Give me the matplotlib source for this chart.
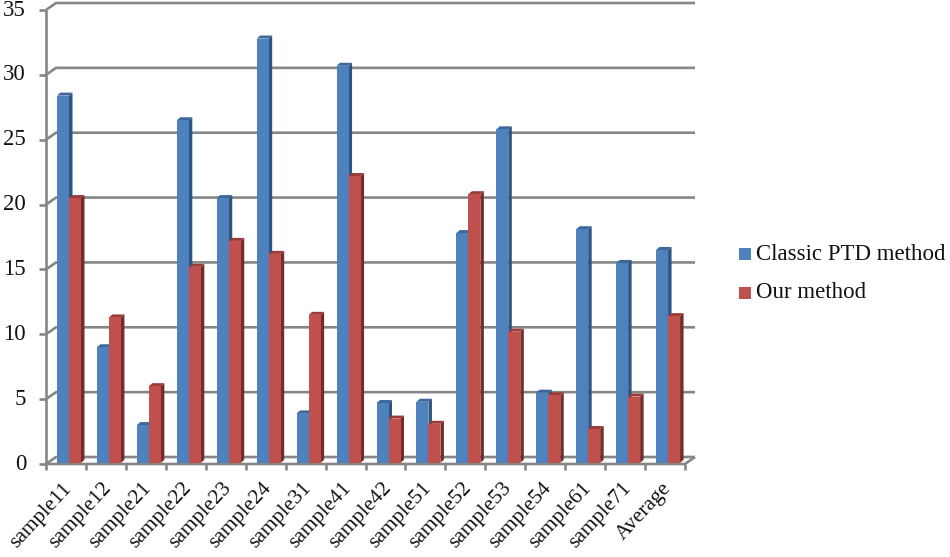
import matplotlib
matplotlib.use('Agg')
import numpy as np
import matplotlib.pyplot as plt
from matplotlib.patches import Polygon, Rectangle

categories = ['sample11', 'sample12', 'sample21', 'sample22', 'sample23', 'sample24',
              'sample31', 'sample41', 'sample42', 'sample51', 'sample52', 'sample53',
              'sample54', 'sample61', 'sample71', 'Average']
classic_ptd = [28.4, 9.0, 3.0, 26.5, 20.5, 32.8, 3.9, 30.7, 4.7, 4.8, 17.8, 25.8, 5.5, 18.1, 15.5, 16.5]
our_method = [20.5, 11.3, 6.0, 15.2, 17.2, 16.2, 11.5, 22.2, 3.5, 3.1, 20.8, 10.2, 5.3, 2.7, 5.2, 11.4]
y_ticks = [0, 5, 10, 15, 20, 25, 30, 35]

W, H = 950, 557
# front plane of the fake 3d box, in pixels
LEFT, RIGHT, BOTTOM, TOP = 46, 685, 464, 10
AXIS_COLOR = '#868686'

plt.rcParams['font.family'] = ['Liberation Serif', 'DejaVu Serif']

fig = plt.figure(figsize=(W / 100, H / 100), dpi=100)
ax = fig.add_axes([LEFT / W, 1 - BOTTOM / H, (RIGHT - LEFT) / W, (BOTTOM - TOP) / H])
ax.set_xlim(0, len(categories))
ax.set_ylim(0, 35)
ax.axis('off')

# pixel sizes to data units
px_x = len(categories) / (RIGHT - LEFT)
px_y = 35 / (BOTTOM - TOP)
wall_dx, wall_dy = 10 * px_x, 7 * px_y
side_dx, side_dy = 3.5 * px_x, 3 * px_y
bar_w = 12 * px_x
base = 1.2 * px_y


def axis_line(xs, ys, zorder=1):
    ax.plot(xs, ys, color=AXIS_COLOR, lw=1.9, clip_on=False, zorder=zorder, solid_capstyle='butt')


# walls and gridlines
n = len(categories)
for v in y_ticks:
    axis_line([0, wall_dx, n + wall_dx], [v, v + wall_dy, v + wall_dy])
    axis_line([-7 * px_x, 0], [v, v])
axis_line([0, 0], [0, 35])
axis_line([0, n, n + wall_dx], [0, 0, wall_dy])
for i in range(n + 1):
    axis_line([i, i], [0, -6 * px_y])


def draw_bar(x, value, face, side, top, zorder):
    ax.add_patch(Polygon([(x + bar_w, base), (x + bar_w + side_dx, base + side_dy),
                          (x + bar_w + side_dx, value + side_dy), (x + bar_w, value)],
                         closed=True, fc=side, ec='none', zorder=zorder, clip_on=False))
    ax.add_patch(Polygon([(x, value), (x + side_dx, value + side_dy),
                          (x + bar_w + side_dx, value + side_dy), (x + bar_w, value)],
                         closed=True, fc=top, ec='none', zorder=zorder, clip_on=False))
    ax.add_patch(Rectangle((x, base), bar_w, value - base, fc=face, ec='none',
                           zorder=zorder, clip_on=False))


for i in range(n):
    x0 = i + 11 * px_x
    draw_bar(x0, classic_ptd[i], '#4f81bd', '#2f5582', '#3a679c', 3 + i * 0.01)
    draw_bar(x0 + bar_w, our_method[i], '#c0504d', '#772c2a', '#9a3b38', 3.005 + i * 0.01)

# tick labels
for v in y_ticks:
    ax.annotate(str(v), (0, v), xytext=(-20, 0), textcoords='offset pixels', ha='right',
                va='center', fontsize=16.5, color='#111111', annotation_clip=False)
for i, name in enumerate(categories):
    ax.annotate(name, (i + 0.5, 0), xytext=(-4, -15), textcoords='offset pixels', ha='right',
                va='top', rotation=47, rotation_mode='anchor', fontsize=15.5,
                color='#111111', annotation_clip=False)

# legend
for label, color, y in [('Classic PTD method', '#4f81bd', 254), ('Our method', '#c0504d', 293)]:
    fig.patches.append(Rectangle((739 / W, 1 - (y + 6) / H), 12 / W, 12 / H, fc=color, ec='none',
                                 transform=fig.transFigure))
    fig.text(756 / W, 1 - y / H, label, ha='left', va='center', fontsize=16.5, color='#111111')

fig.savefig('out.png', dpi=100, facecolor='white')
